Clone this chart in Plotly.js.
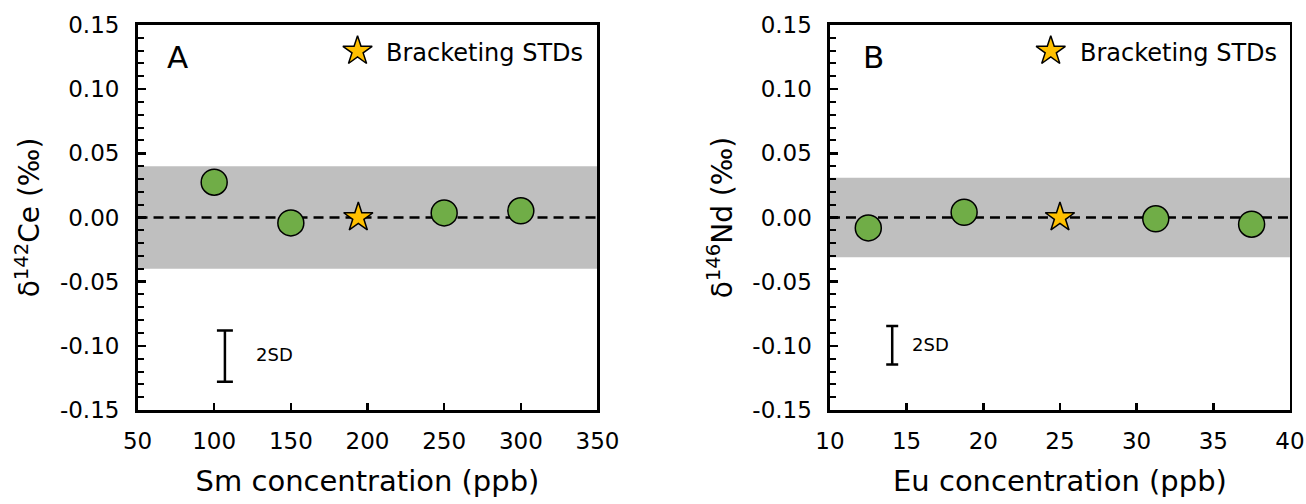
<!DOCTYPE html>
<html>
<head>
<meta charset="utf-8">
<script src="https://cdn.plot.ly/plotly-3.0.1.min.js"></script>
<style>
  html, body { margin: 0; padding: 0; background: #ffffff; }
  #chart { width: 1306px; height: 504px; }
</style>
</head>
<body>
<div id="chart"></div>
<script>
// Panel A: Ce isotope composition vs. Sm doping
const smConc = [100, 150, 250, 300];
const dCe142 = [0.0275, -0.0042, 0.0036, 0.0052];
const smStdConc = [194];
const smStdDelta = [0];
const ceBand = [-0.040, 0.040];           // long-term 2SD band
const ceErr = { x: [107], y: [-0.108], sd2: [0.020] };

// Panel B: Nd isotope composition vs. Eu doping
const euConc = [12.5, 18.75, 31.25, 37.5];
const dNd146 = [-0.0081, 0.0041, -0.0010, -0.0052];
const euStdConc = [25];
const euStdDelta = [0];
const ndBand = [-0.031, 0.031];
const ndErr = { x: [14.06], y: [-0.0995], sd2: [0.015] };

// shared tick labels
const yTickVals = [-0.15, -0.10, -0.05, 0.00, 0.05, 0.10, 0.15];
const yTickText = ['-0.15', '-0.10', '-0.05', '0.00', '0.05', '0.10', '0.15'];

const FONT = 'DejaVu Sans, Liberation Sans, Arial, sans-serif';
const GREEN = '#70AD47';
const GOLD = '#FFC000';

function samples(x, y, xa, ya) {
  return {
    x: x, y: y, xaxis: xa, yaxis: ya, type: 'scatter', mode: 'markers',
    marker: { symbol: 'circle', size: 26, color: GREEN, line: { color: '#000', width: 1.5 } },
    hoverinfo: 'x+y', showlegend: false
  };
}
function stds(x, y, xa, ya) {
  return {
    x: x, y: y, xaxis: xa, yaxis: ya, type: 'scatter', mode: 'markers',
    marker: { symbol: 'star', size: 22, color: GOLD, line: { color: '#000', width: 1.5 } },
    hoverinfo: 'x+y', showlegend: false
  };
}
function errBar(e, xa, ya, capHalf) {
  return {
    x: e.x, y: e.y, xaxis: xa, yaxis: ya, type: 'scatter', mode: 'markers',
    marker: { size: 1, color: 'rgba(0,0,0,0)' },
    error_y: { type: 'data', array: e.sd2, visible: true, color: '#000', thickness: 2.5, width: capHalf },
    hoverinfo: 'skip', showlegend: false
  };
}
// key symbol placed inside each panel
function keyStar(x, y, xa, ya) {
  return {
    x: [x], y: [y], xaxis: xa, yaxis: ya, type: 'scatter', mode: 'markers',
    marker: { symbol: 'star', size: 22, color: GOLD, line: { color: '#000', width: 1.5 } },
    hoverinfo: 'skip', showlegend: false
  };
}

const data = [
  errBar(ceErr, 'x', 'y', 8),
  samples(smConc, dCe142, 'x', 'y'),
  stds(smStdConc, smStdDelta, 'x', 'y'),
  keyStar(193.5, 0.1297, 'x', 'y'),
  errBar(ndErr, 'x2', 'y2', 6),
  samples(euConc, dNd146, 'x2', 'y2'),
  stds(euStdConc, euStdDelta, 'x2', 'y2'),
  keyStar(24.4, 0.1297, 'x2', 'y2')
];

const axLine = { showline: true, linecolor: '#000', linewidth: 2.5, mirror: true,
                 showgrid: false, zeroline: false, ticks: 'inside', tickcolor: '#000',
                 tickwidth: 2.5, tickfont: { family: FONT, size: 23, color: '#000' } };

function xAxis(domain, range, dtick, title, anchor) {
  return Object.assign({}, axLine, {
    domain: domain, range: range, dtick: dtick, tick0: range[0], anchor: anchor,
    ticklen: 7, ticklabelstandoff: 9,
    title: { text: title, font: { family: FONT, size: 29, color: '#000' }, standoff: 18 }
  });
}
function yAxis(domain, title, anchor) {
  return Object.assign({}, axLine, {
    domain: domain, range: [-0.15, 0.15], anchor: anchor,
    tickmode: 'array', tickvals: yTickVals, ticktext: yTickText,
    ticklen: 8, ticklabelstandoff: 11,
    minor: { dtick: 0.01, tick0: 0, ticks: 'inside', ticklen: 6, tickwidth: 2, tickcolor: '#000', showgrid: false },
    title: { text: title, font: { family: FONT, size: 28, color: '#000' }, standoff: 12 }
  });
}

const yDom = [0.1865, 0.9504];

const layout = {
  width: 1306, height: 504,
  margin: { l: 0, r: 0, t: 0, b: 0, pad: 0 },
  paper_bgcolor: '#ffffff', plot_bgcolor: '#ffffff',
  font: { family: FONT, color: '#000' },
  showlegend: false,
  xaxis: xAxis([0.1053, 0.4575], [50, 350], 50, 'Sm concentration (ppb)', 'y'),
  yaxis: yAxis(yDom, 'δ<sup>142</sup>Ce (‰)', 'x'),
  xaxis2: xAxis([0.6355, 0.9877], [10, 40], 5, 'Eu concentration (ppb)', 'y2'),
  yaxis2: yAxis(yDom, 'δ<sup>146</sup>Nd (‰)', 'x2'),
  shapes: [
    { type: 'rect', xref: 'x domain', yref: 'y', x0: 0, x1: 1, y0: ceBand[0], y1: ceBand[1],
      fillcolor: '#BFBFBF', line: { width: 0 }, layer: 'below' },
    { type: 'line', xref: 'x domain', yref: 'y', x0: 0, x1: 1, y0: 0, y1: 0,
      line: { color: '#000', width: 2.5, dash: '10px,6px' }, layer: 'below' },
    { type: 'rect', xref: 'x2 domain', yref: 'y2', x0: 0, x1: 1, y0: ndBand[0], y1: ndBand[1],
      fillcolor: '#BFBFBF', line: { width: 0 }, layer: 'below' },
    { type: 'line', xref: 'x2 domain', yref: 'y2', x0: 0, x1: 1, y0: 0, y1: 0,
      line: { color: '#000', width: 2.5, dash: '10px,6px' }, layer: 'below' }
  ],
  annotations: [
    { text: 'A', xref: 'x', yref: 'y', x: 68, y: 0.125, xanchor: 'left', yanchor: 'middle',
      showarrow: false, font: { family: FONT, size: 31, color: '#000' } },
    { text: 'Bracketing STDs', xref: 'x', yref: 'y', x: 211, y: 0.128, xanchor: 'left', yanchor: 'middle',
      showarrow: false, font: { family: FONT, size: 24, color: '#000' } },
    { text: '2SD', xref: 'x', yref: 'y', x: 126, y: -0.1066, xanchor: 'left', yanchor: 'middle',
      showarrow: false, font: { family: FONT, size: 18, color: '#000' } },
    { text: 'B', xref: 'x2', yref: 'y2', x: 12.0, y: 0.125, xanchor: 'left', yanchor: 'middle',
      showarrow: false, font: { family: FONT, size: 31, color: '#000' } },
    { text: 'Bracketing STDs', xref: 'x2', yref: 'y2', x: 26.15, y: 0.128, xanchor: 'left', yanchor: 'middle',
      showarrow: false, font: { family: FONT, size: 24, color: '#000' } },
    { text: '2SD', xref: 'x2', yref: 'y2', x: 15.25, y: -0.0988, xanchor: 'left', yanchor: 'middle',
      showarrow: false, font: { family: FONT, size: 18, color: '#000' } }
  ]
};

Plotly.newPlot('chart', data, layout, { staticPlot: true, displayModeBar: false });
</script>
</body>
</html>
